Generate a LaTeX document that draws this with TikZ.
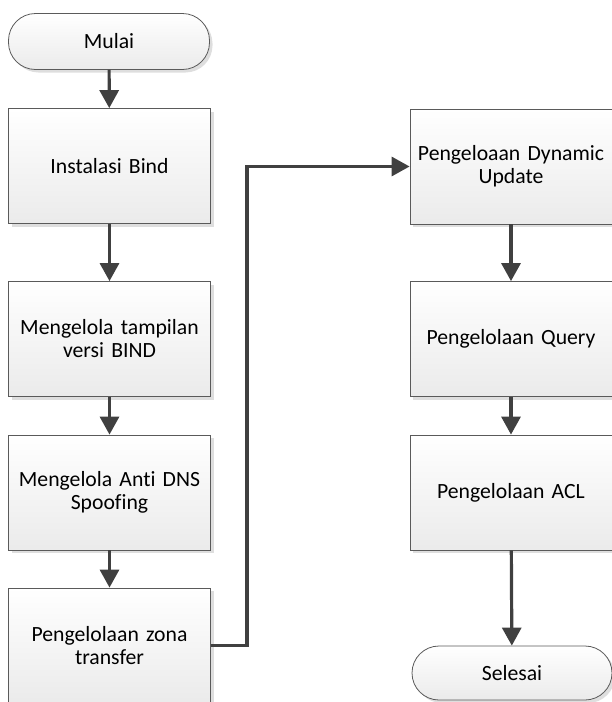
\documentclass[tikz,border=0pt]{standalone}
\usepackage{fontspec}
\setmainfont{Carlito}[Ligatures=NoCommon]
\usetikzlibrary{arrows.meta,shadows,positioning}
\definecolor{edgegray}{HTML}{5A5A5A}
\definecolor{arrowgray}{HTML}{404040}
\begin{document}
\begin{tikzpicture}[x=1pt,y=-1pt,
  every node/.style={font=\fontsize{21.7}{23}\selectfont, text=black, align=center},
  procbox/.style={draw=edgegray, line width=0.8pt, top color=white, bottom color=black!8,
    minimum width=201pt, minimum height=115pt, inner sep=1pt, text width=200pt,
    drop shadow={shadow xshift=3pt, shadow yshift=-3pt, fill=black!13, opacity=1}},
  termbox/.style={draw=edgegray, line width=0.8pt, top color=white, bottom color=black!8,
    rounded corners=27pt, minimum width=201pt, minimum height=56pt, inner sep=2pt,
    drop shadow={shadow xshift=3pt, shadow yshift=-3pt, fill=black!13, opacity=1}},
  flow/.style={draw=arrowgray, line width=3.2pt, -{Triangle[width=19pt,length=18pt]}}
]
\useasboundingbox (0,0) rectangle (612,702);
\node[termbox] (mulai) at (109,41.5) {Mulai};
\node[procbox] (b1) at (109.5,166) {Instalasi Bind};
\node[procbox] (b2) at (109.5,339) {Mengelola tampilan\\versi BIND};
\node[procbox] (b3) at (109.5,492.5) {Mengelola Anti DNS\\Spoofing};
\node[procbox] (b4) at (109.5,645.5) {Pengelolaan zona\\transfer};
\node[procbox] (r1) at (511,166.5) {Pengeloaan Dynamic\\Update};
\node[procbox] (r2) at (511,339) {Pengelolaan Query};
\node[procbox] (r3) at (511,492.5) {Pengelolaan ACL};
\node[termbox, minimum width=200pt, minimum height=54pt] (selesai) at (512,673) {Selesai};
\coordinate (bend) at (247,645.5);
\draw[flow] (mulai) -- (b1);
\draw[flow] (b1) -- (b2);
\draw[flow] (b2) -- (b3);
\draw[flow] (b3) -- (b4);
\draw[flow] (b4.east) -- (bend) |- (r1.west);
\draw[flow] (r1) -- (r2);
\draw[flow] (r2) -- (r3);
\draw[flow] (r3) -- (selesai);
\end{tikzpicture}
\end{document}
